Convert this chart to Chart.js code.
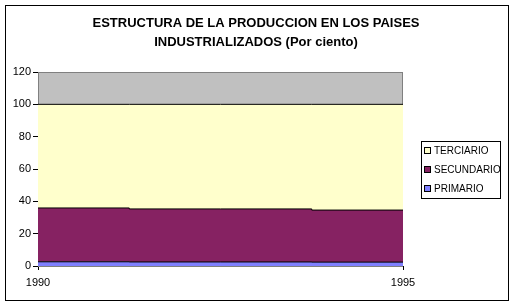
<!DOCTYPE html>
<html>
<head>
<meta charset="utf-8">
<script src="https://cdn.jsdelivr.net/npm/chart.js@4/dist/chart.umd.min.js"></script>
<style>
  html, body { margin: 0; padding: 0; background: #fff; }
  #wrap { width: 515px; height: 306px; }
</style>
</head>
<body>
<div id="wrap"><canvas id="areaChart" width="515" height="306"></canvas></div>
<script>
// data
var years = [1990, 1992.5, 1995];
var yearTicks = [1990, 1995];
var primario = [2.6, 2.5, 2.4];
var secundario = [33.3, 32.8, 32.2];
var terciario = [64.1, 64.7, 65.4];
var yTicks = [0, 20, 40, 60, 80, 100, 120];
var seriesNames = ['PRIMARIO', 'SECUNDARIO', 'TERCIARIO'];
var seriesColors = ['#8080FF', '#862262', '#FFFFCC'];
var titleLines = ['ESTRUCTURA DE LA PRODUCCION EN LOS PAISES', 'INDUSTRIALIZADOS (Por ciento)'];

Chart.defaults.font.family = '"Liberation Sans", Arial, sans-serif';
Chart.defaults.color = '#000';

function pts(vals) {
  return vals.map(function (v, i) { return { x: years[i], y: v }; });
}

var allSeries = [primario, secundario, terciario];
var datasets = allSeries.map(function (vals, i) {
  return {
    label: seriesNames[i],
    data: pts(vals),
    backgroundColor: seriesColors[i],
    borderColor: '#000',
    borderWidth: 1,
    pointRadius: 0,
    stepped: 'middle',
    fill: i === 0 ? 'origin' : '-1'
  };
});

// gray plot area, title, outer frame and legend box (Excel look)
var excelFrame = {
  id: 'excelFrame',
  beforeDatasetsDraw: function (chart) {
    var ctx = chart.ctx, a = chart.chartArea;
    ctx.save();
    ctx.fillStyle = '#C0C0C0';
    ctx.fillRect(a.left, a.top, a.right - a.left, a.bottom - a.top);
    ctx.strokeStyle = '#808080';
    ctx.lineWidth = 1;
    ctx.strokeRect(a.left + 0.5, a.top + 0.5, a.right - a.left - 1, a.bottom - a.top);
    ctx.restore();
  },
  afterDraw: function (chart) {
    var ctx = chart.ctx;
    ctx.save();
    ctx.strokeStyle = '#000';
    ctx.lineWidth = 1;
    ctx.strokeRect(5.5, 5.5, 503, 295);

    // title
    ctx.fillStyle = '#000';
    ctx.font = 'bold 13px "Liberation Sans", Arial, sans-serif';
    ctx.textAlign = 'center';
    ctx.textBaseline = 'middle';
    ctx.fillText(titleLines[0], 256, 23);
    ctx.fillText(titleLines[1], 256, 42);

    // legend
    ctx.textAlign = 'left';
    ctx.strokeRect(421.5, 141.5, 79, 57);
    ctx.font = '10px "Liberation Sans", Arial, sans-serif';
    var ds = chart.data.datasets;
    for (var k = 0; k < ds.length; k++) {
      var d = ds[ds.length - 1 - k];
      var cy = 150 + k * 19;
      ctx.fillStyle = d.backgroundColor;
      ctx.fillRect(424, cy - 3, 7, 7);
      ctx.strokeRect(424.5, cy - 2.5, 6, 6);
      ctx.fillStyle = '#000';
      ctx.fillText(d.label, 434, cy + 1);
    }
    ctx.restore();
  }
};

new Chart(document.getElementById('areaChart').getContext('2d'), {
  type: 'line',
  data: { datasets: datasets },
  plugins: [excelFrame],
  options: {
    responsive: false,
    animation: false,
    layout: { padding: { top: 72, left: 0, right: 112, bottom: 0 } },
    plugins: {
      legend: { display: false },
      tooltip: { enabled: false },
      title: { display: false }
    },
    scales: {
      x: {
        type: 'linear',
        min: 1990,
        max: 1995,
        afterBuildTicks: function (s) { s.ticks = yearTicks.map(function (v) { return { value: v }; }); },
        afterFit: function (s) { s.height = 40; },
        border: { color: '#000', width: 1 },
        grid: { drawOnChartArea: false, drawTicks: true, tickLength: 4, color: '#000' },
        ticks: { padding: 6, maxRotation: 0, font: { size: 11 }, callback: function (v) { return String(v); } }
      },
      y: {
        stacked: true,
        min: 0,
        max: 120,
        afterBuildTicks: function (s) { s.ticks = yTicks.map(function (v) { return { value: v }; }); },
        afterFit: function (s) { s.width = 38; },
        border: { color: '#000', width: 1 },
        grid: { drawOnChartArea: false, drawTicks: true, tickLength: 5, color: '#000' },
        ticks: { padding: 2, font: { size: 11 } }
      }
    }
  }
});
</script>
</body>
</html>
